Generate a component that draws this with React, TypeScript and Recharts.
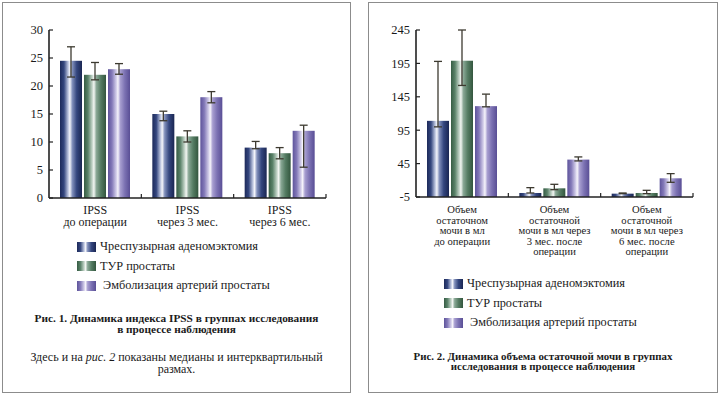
import { Bar, BarChart, ErrorBar, Legend, XAxis, YAxis } from "recharts";

const SERIF = '"Liberation Serif", "Times New Roman", serif';
const INK = "#1a1a1a";

const seriesKeys = ["a", "b", "c"];
const seriesNames = ["Чреспузырная аденомэктомия", "ТУР простаты", " Эмболизация артерий простаты"];
const gradIds = ["gNavy", "gGreen", "gPurple"];

// Рис. 1 — IPSS (медиана, Q1, Q3)
const ipssCats = ["before", "m3", "m6"];
const ipssLabels = [
  ["IPSS", "до операции"],
  ["IPSS", "через 3 мес."],
  ["IPSS", "через 6 мес."]
];
const ipssTicks = [0, 5, 10, 15, 20, 25, 30];
const ipssMed = [
  [24.5, 15, 9],
  [22, 11, 8],
  [23, 18, 12]
];
const ipssLow = [
  [21.6, 13.8, 8.8],
  [21.1, 10, 7],
  [22.1, 17, 5.5]
];
const ipssHigh = [
  [27, 15.5, 10.1],
  [24.2, 12, 9],
  [24, 19, 13]
];

// Рис. 2 — объем остаточной мочи, мл
const urineCats = ["before", "m3", "m6"];
const urineLabels = [
  ["Объем", "остаточном", "мочи в мл", "до операции"],
  ["Объем", "остаточной", "мочи в мл через", "3 мес. после", "операции"],
  ["Объем", "остаточной", "мочи в мл через", "6 мес. после", "операции"]
];
const urineTicks = [-5, 45, 95, 145, 195, 245];
const urineMed = [
  [109, 1, 0],
  [199, 8, 1],
  [131, 51, 23]
];
const urineLow = [
  [100, 1, 0],
  [162, 6, 0],
  [130, 49, 17]
];
const urineHigh = [
  [198, 9, 1],
  [245, 14, 5],
  [149, 55, 30]
];

function buildRows(cats: string[], med: number[][], lo: number[][], hi: number[][]) {
  return cats.map((cat, i) => {
    const row: any = { cat };
    seriesKeys.forEach((k, s) => {
      row[k] = med[s][i];
      row[k + "Err"] = [med[s][i] - lo[s][i], hi[s][i] - med[s][i]];
    });
    return row;
  });
}

const ipssRows = buildRows(ipssCats, ipssMed, ipssLow, ipssHigh);
const urineRows = buildRows(urineCats, urineMed, urineLow, urineHigh);

// bar drawn down to the bottom of the plot (axis crosses at its minimum)
function GradBar(props: any) {
  const bg = props.background;
  const bottom = bg ? bg.y + bg.height : props.y + props.height;
  const h = Math.max(bottom - props.y, 0);
  return <rect x={props.x} y={props.y} width={props.width} height={h} fill={props.fill} />;
}

const TICK_MARGIN = 4;

function CatTick(props: any) {
  const { x, y, payload, lines, lh, first, size } = props;
  const axisY = y - TICK_MARGIN;
  const idx = props.index ?? payload.index ?? 0;
  const off = payload.offset ?? 0;
  return (
    <g>
      {off > 0 && (
        <line x1={x + off} x2={x + off} y1={axisY} y2={axisY - 4} stroke="#222" strokeWidth={1.2} />
      )}
      <text x={x} y={axisY + first} textAnchor="middle" fontFamily={SERIF} fontSize={size} fill={INK}>
        {lines[idx].map((l: string, i: number) => (
          <tspan key={i} x={x} dy={i === 0 ? 0 : lh}>
            {l}
          </tspan>
        ))}
      </text>
    </g>
  );
}

function LegendBox() {
  return (
    <div style={{ fontFamily: SERIF, fontSize: 12.3, color: INK }}>
      {seriesNames.map((n, i) => (
        <div key={i} style={{ display: "flex", alignItems: "center", height: 19.5 }}>
          <svg width={19} height={10} style={{ display: "block" }}>
            <rect width={19} height={10} fill={`url(#${gradIds[i]})`} />
          </svg>
          <span style={{ marginLeft: 4, whiteSpace: "pre" }}>{n}</span>
        </div>
      ))}
    </div>
  );
}

function Grad({ id, stops }: { id: string; stops: string[] }) {
  const offs = [0, 0.18, 0.38, 0.45, 0.56, 0.76, 1];
  return (
    <linearGradient id={id} x1="0" y1="0" x2="1" y2="0">
      {stops.map((c, i) => (
        <stop key={i} offset={offs[i]} stopColor={c} />
      ))}
    </linearGradient>
  );
}

function Panel({
  rows,
  ticks,
  labels,
  yWidth,
  marginRight,
  marginBottom,
  lh,
  labelSize,
  legendTop,
  legendLeft
}: any) {
  return (
    <BarChart
      width={360}
      height={397}
      data={rows}
      margin={{ top: 30, right: marginRight, bottom: marginBottom, left: 0 }}
      barSize={22}
      barGap={2}
    >
      <XAxis
        dataKey="cat"
        height={40}
        tickSize={0}
        tickMargin={TICK_MARGIN}
        tickLine={false}
        axisLine={{ stroke: "#222", strokeWidth: 1.6 }}
        interval={0}
        tick={(p: any) => <CatTick {...p} lines={labels} lh={lh} first={16} size={labelSize} />}
      />
      <YAxis
        width={yWidth}
        type="number"
        domain={[ticks[0], ticks[ticks.length - 1]]}
        ticks={ticks}
        allowDataOverflow
        interval={0}
        tickSize={-4}
        tickMargin={10}
        tickLine={{ stroke: "#222", strokeWidth: 1.2 }}
        axisLine={{ stroke: "#222", strokeWidth: 1.6 }}
        tick={{ fontFamily: SERIF, fontSize: 12.5, fill: INK }}
      />
      {seriesKeys.map((k, i) => (
        <Bar
          key={k}
          dataKey={k}
          name={seriesNames[i]}
          fill={`url(#${gradIds[i]})`}
          shape={GradBar}
          isAnimationActive={false}
        >
          <ErrorBar
            dataKey={k + "Err"}
            width={4}
            stroke="#3d3a30"
            strokeWidth={1.3}
            isAnimationActive={false}
          />
        </Bar>
      ))}
      <Legend
        layout="vertical"
        align="center"
        verticalAlign="middle"
        content={() => <LegendBox />}
        wrapperStyle={{ top: legendTop, left: legendLeft, width: "auto" }}
      />
    </BarChart>
  );
}

const boxStyle: any = {
  position: "absolute",
  top: 2,
  height: 391,
  border: "1.5px solid #8c8c8c",
  boxSizing: "border-box"
};

const captionStyle: any = {
  position: "absolute",
  textAlign: "center",
  fontFamily: SERIF,
  color: INK
};

export default function App() {
  return (
    <div style={{ position: "absolute", left: 0, top: 0, width: 720, height: 397, background: "#fff" }}>
      <svg width={0} height={0} style={{ position: "absolute" }}>
        <defs>
          <Grad id="gNavy" stops={["#1d2a5a", "#34467e", "#c3cbe3", "#f4f5fa", "#8290bb", "#34467e", "#1a2652"]} />
          <Grad id="gGreen" stops={["#365c44", "#5a8269", "#c6d6cb", "#f3f6f3", "#8aa896", "#557c63", "#33563e"]} />
          <Grad id="gPurple" stops={["#5e549b", "#8379b8", "#d4cfea", "#f6f4fb", "#a79ed0", "#7c72b3", "#594e95"]} />
        </defs>
      </svg>

      <div style={{ ...boxStyle, left: 2, width: 349 }} />
      <div style={{ ...boxStyle, left: 368, width: 350 }} />

      <div style={{ position: "absolute", left: 0, top: 0 }}>
        <Panel
          rows={ipssRows}
          ticks={ipssTicks}
          labels={ipssLabels}
          yWidth={49}
          marginRight={34}
          marginBottom={159}
          lh={12}
          labelSize={12}
          legendTop={237}
          legendLeft={77}
        />
      </div>
      <div style={{ position: "absolute", left: 360, top: 0 }}>
        <Panel
          rows={urineRows}
          ticks={urineTicks}
          labels={urineLabels}
          yWidth={56}
          marginRight={27}
          marginBottom={160}
          lh={10.5}
          labelSize={10.6}
          legendTop={274}
          legendLeft={84}
        />
      </div>

      <div
        style={{
          ...captionStyle,
          left: 2,
          width: 349,
          top: 312.5,
          fontWeight: "bold",
          fontSize: 11.3,
          lineHeight: "11.3px"
        }}
      >
        Рис. 1. Динамика индекса IPSS в группах исследования
        <br />в процессе наблюдения
      </div>
      <div
        style={{
          ...captionStyle,
          left: 2,
          width: 349,
          top: 350.5,
          fontSize: 12,
          lineHeight: "12px"
        }}
      >
        Здесь и на <i>рис. 2</i> показаны медианы и интерквартильный
        <br />
        размах.
      </div>
      <div
        style={{
          ...captionStyle,
          left: 368,
          width: 350,
          top: 350.5,
          fontWeight: "bold",
          fontSize: 10.9,
          lineHeight: "10.9px"
        }}
      >
        Рис. 2. Динамика объема остаточной мочи в группах
        <br />
        исследования в процессе наблюдения
      </div>
    </div>
  );
}
